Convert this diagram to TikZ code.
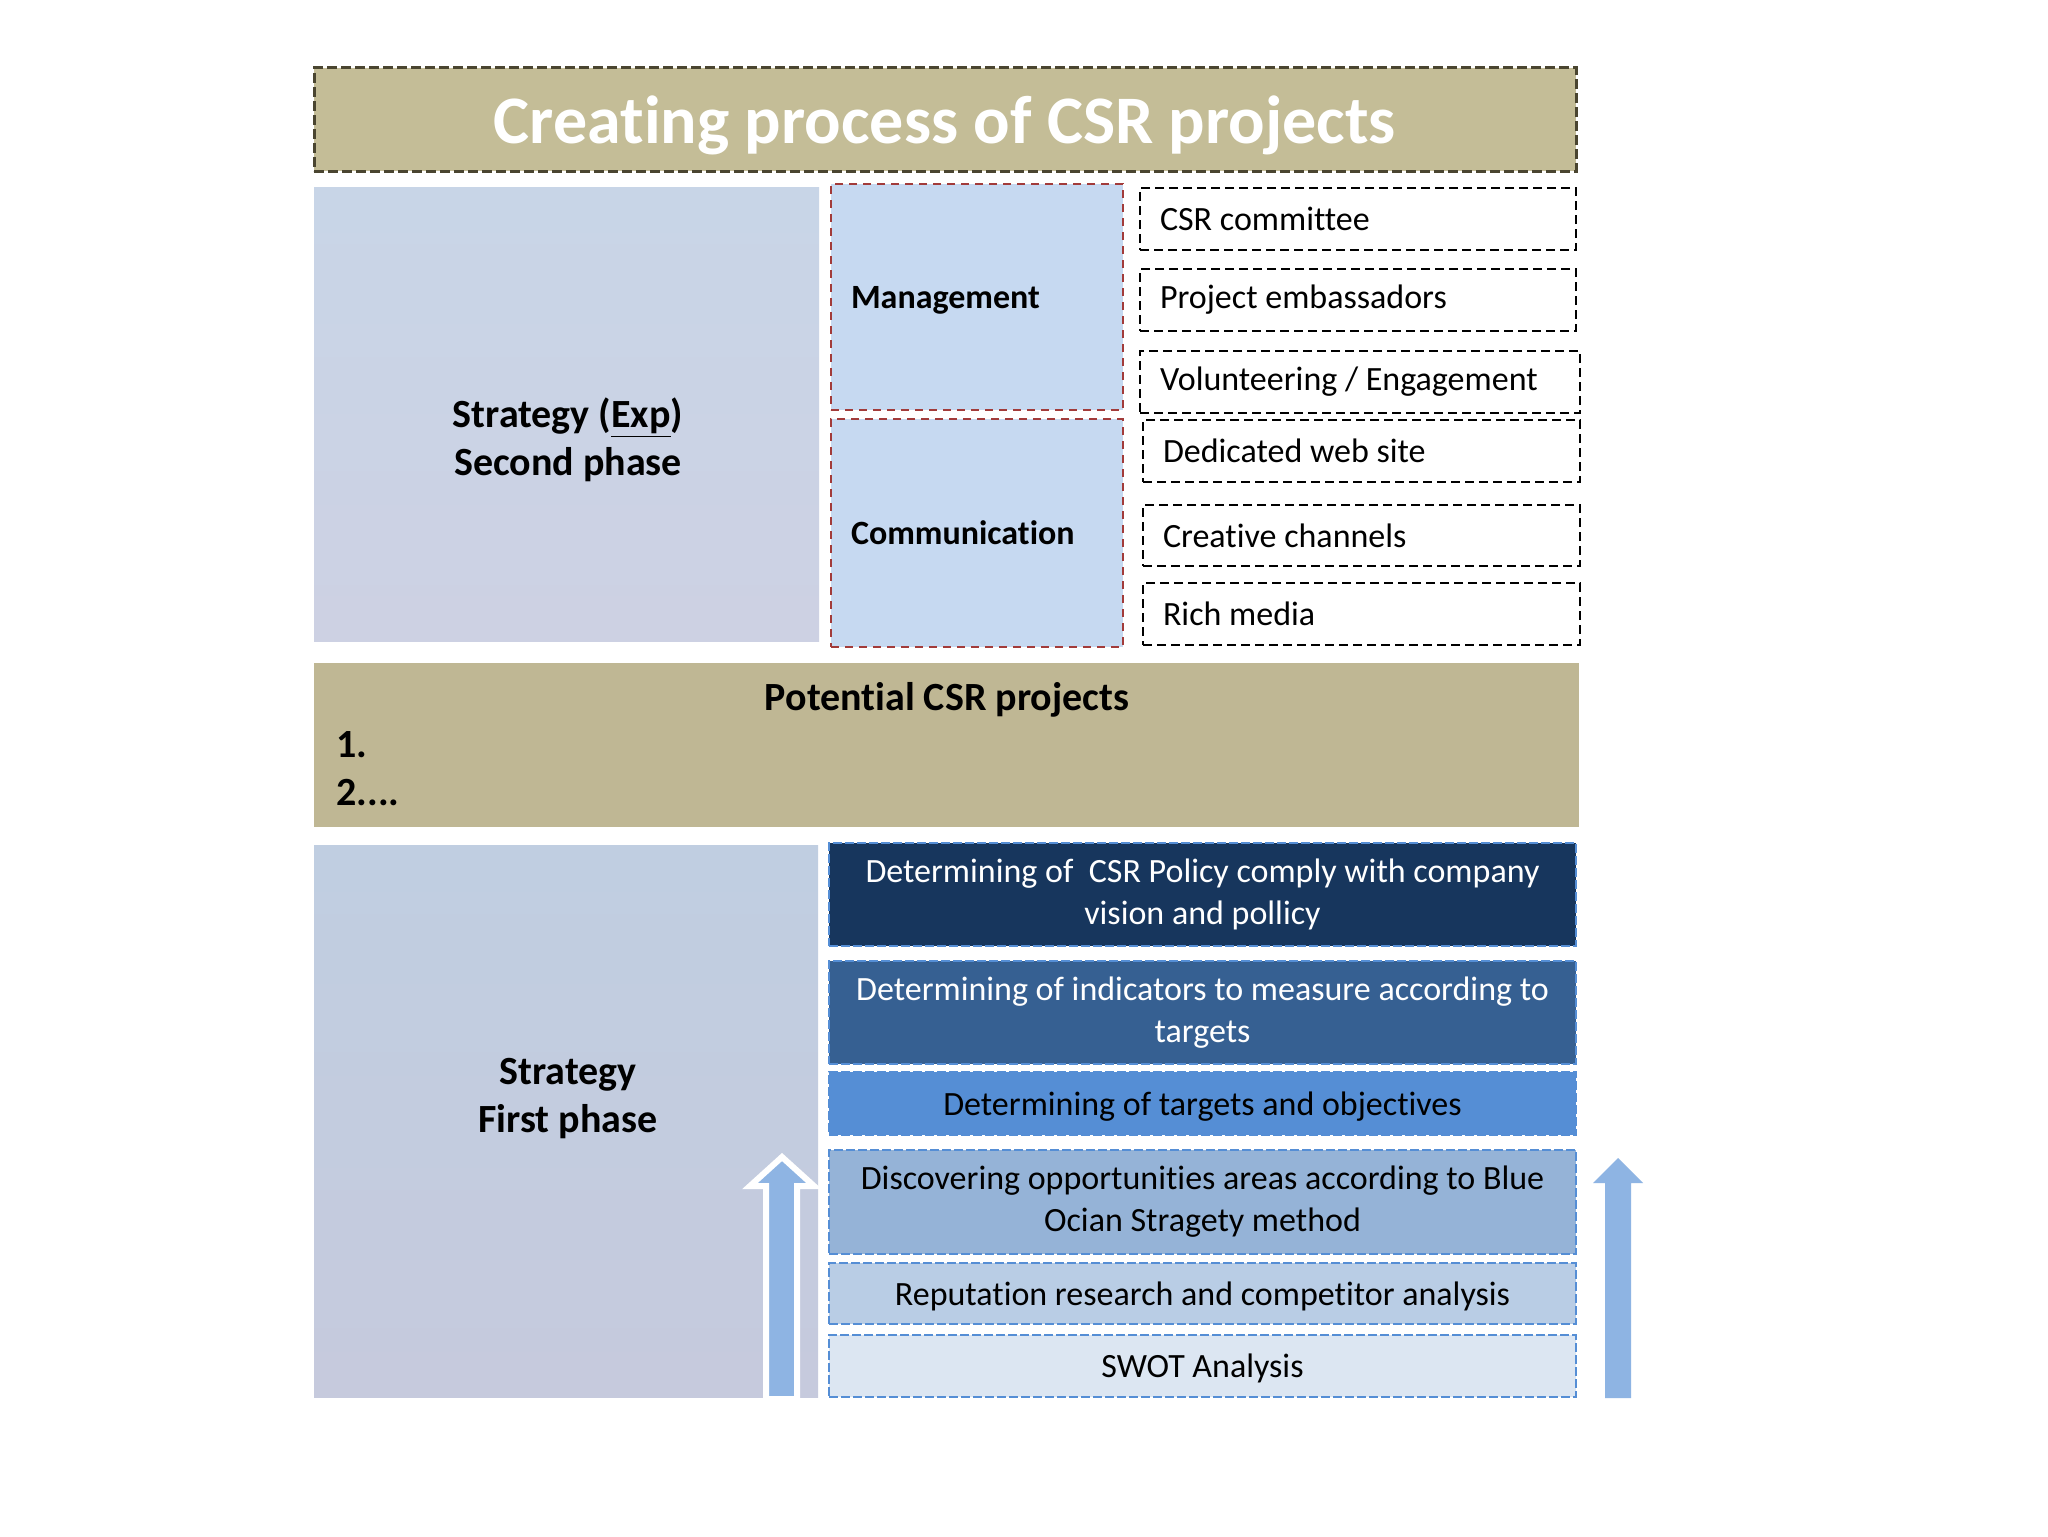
\documentclass[tikz,border=0pt]{standalone}
\usepackage{fontspec}
\setmainfont{Carlito}[Ligatures=NoCommon]
\definecolor{titlefill}{HTML}{C4BD97}
\definecolor{titleborder}{HTML}{4A4530}
\definecolor{potfill}{HTML}{BFB794}
\definecolor{stratA}{HTML}{C8D5E7}
\definecolor{stratB}{HTML}{CDD1E3}
\definecolor{stratC}{HTML}{C0CEE1}
\definecolor{stratD}{HTML}{C6CADD}
\definecolor{mgmtfill}{HTML}{C6D9F1}
\definecolor{redborder}{HTML}{A23B3A}
\definecolor{stepborder}{HTML}{558ED5}
\definecolor{stepA}{HTML}{17365D}
\definecolor{stepB}{HTML}{366092}
\definecolor{stepC}{HTML}{558ED5}
\definecolor{stepD}{HTML}{95B3D7}
\definecolor{stepE}{HTML}{B9CDE5}
\definecolor{stepF}{HTML}{DCE6F2}
\definecolor{arrowfill}{HTML}{8EB4E3}
\newcommand\bx[7]{%
  \pgfmathsetlengthmacro\bxw{(#4-#2)*0.5pt}%
  \pgfmathsetlengthmacro\bxh{(#5-#3)*0.5pt}%
  \pgfmathsetlengthmacro\bxt{(#4-#2)*0.5pt-20pt}%
  \node[#6, minimum width=\bxw, minimum height=\bxh, text width=\bxt] (#1) at (#2,#3) {#7};}
\begin{document}
\begin{tikzpicture}[x=0.5pt,y=-0.5pt,
  base/.style={inner xsep=10pt, inner ysep=0pt, outer sep=0pt, anchor=north west},
  titlebox/.style={base, fill=titlefill, draw=titleborder, line width=1.5pt,
    dash pattern=on 5pt off 2pt, text=white, align=flush center, text depth=0pt,
    font=\fontsize{34}{41}\selectfont\bfseries},
  stratbox/.style={base},
  redbox/.style={base, fill=mgmtfill, draw=redborder, line width=1.3pt,
    dash pattern=on 4pt off 3pt, align=flush left, text depth=0pt,
    font=\fontsize{17}{21}\selectfont\bfseries},
  itembox/.style={base, fill=white, draw=black, line width=1.3pt,
    dash pattern=on 4.5pt off 2.5pt, align=flush left,
    font=\fontsize{17}{21}\selectfont},
  stepbox/.style={base, draw=stepborder, line width=1.1pt,
    dash pattern=on 4.5pt off 1.5pt, align=flush center,
    font=\fontsize{17}{21}\selectfont},
  onestep/.style={stepbox, text depth=0pt},
  bigtext/.style={inner sep=0pt, anchor=base, font=\fontsize{20}{24}\selectfont\bfseries},
  upar/.style={fill=arrowfill}
]
\useasboundingbox[fill=white] (0,0) rectangle (2048,1536);

% title
\bx{title}{314}{68}{1576}{171}{titlebox}{Creating process of CSR projects}

% second phase
\bx{exp}{314}{187}{819}{641}{stratbox, top color=stratA, bottom color=stratB}{}
\node[bigtext] (expA) at (568,427) {Strategy (\underline{Exp})};
\node[bigtext] (expB) at (568,475) {Second phase};

\bx{mgmt}{831}{184}{1123}{410}{redbox}{Management}
\bx{comm}{831}{419}{1123}{647}{redbox}{Communication}

\bx{i1}{1140}{188}{1576}{250}{itembox}{CSR committee}
\bx{i2}{1140}{269}{1576}{331}{itembox}{Project embassadors}
\bx{i3}{1140}{351}{1580}{413}{itembox}{Volunteering / Engagement}
\bx{i4}{1143}{420}{1580}{482}{itembox}{Dedicated web site}
\bx{i5}{1143}{505}{1580}{566}{itembox}{Creative channels}
\bx{i6}{1143}{583}{1580}{645}{itembox}{Rich media}

% potential band
\bx{pot}{314}{663}{1579}{827}{base, fill=potfill}{}
\node[bigtext] (potT) at (947,710) {Potential CSR projects};
\node[bigtext, anchor=base west] (potA) at (336,757) {1.};
\node[bigtext, anchor=base west] (potB) at (336,805) {2....};

% first phase
\bx{first}{314}{845}{818}{1397}{stratbox, top color=stratC, bottom color=stratD}{}
\node[bigtext] (firstA) at (568,1084) {Strategy};
\node[bigtext] (firstB) at (568,1132) {First phase};

\bx{s1}{829}{843}{1576}{946}{stepbox, fill=stepA, text=white}{Determining of \ CSR Policy comply with company\\vision and pollicy}
\bx{s2}{829}{961}{1576}{1064}{stepbox, fill=stepB, text=white}{Determining of indicators to measure according to\\targets}
\bx{s3}{829}{1072}{1576}{1135}{onestep, fill=stepC}{Determining of targets and objectives}
\bx{s4}{829}{1150}{1576}{1254}{stepbox, fill=stepD}{Discovering opportunities areas according to Blue\\Ocian Stragety method}
\bx{s5}{829}{1263}{1576}{1324}{onestep, fill=stepE}{Reputation research and competitor analysis}
\bx{s6}{829}{1335}{1576}{1397}{onestep, fill=stepF}{SWOT Analysis}

% arrows
\draw[upar, draw=white, line width=3pt, line join=miter]
  (766,1399) -- (766,1186) -- (750,1186) -- (782,1157) -- (814,1186)
  -- (797,1186) -- (797,1399) -- cycle;
\fill[upar]
  (1605,1398) -- (1605,1183) -- (1593,1183) -- (1618,1158) -- (1643,1183)
  -- (1631,1183) -- (1631,1398) -- cycle;
\end{tikzpicture}
\end{document}
